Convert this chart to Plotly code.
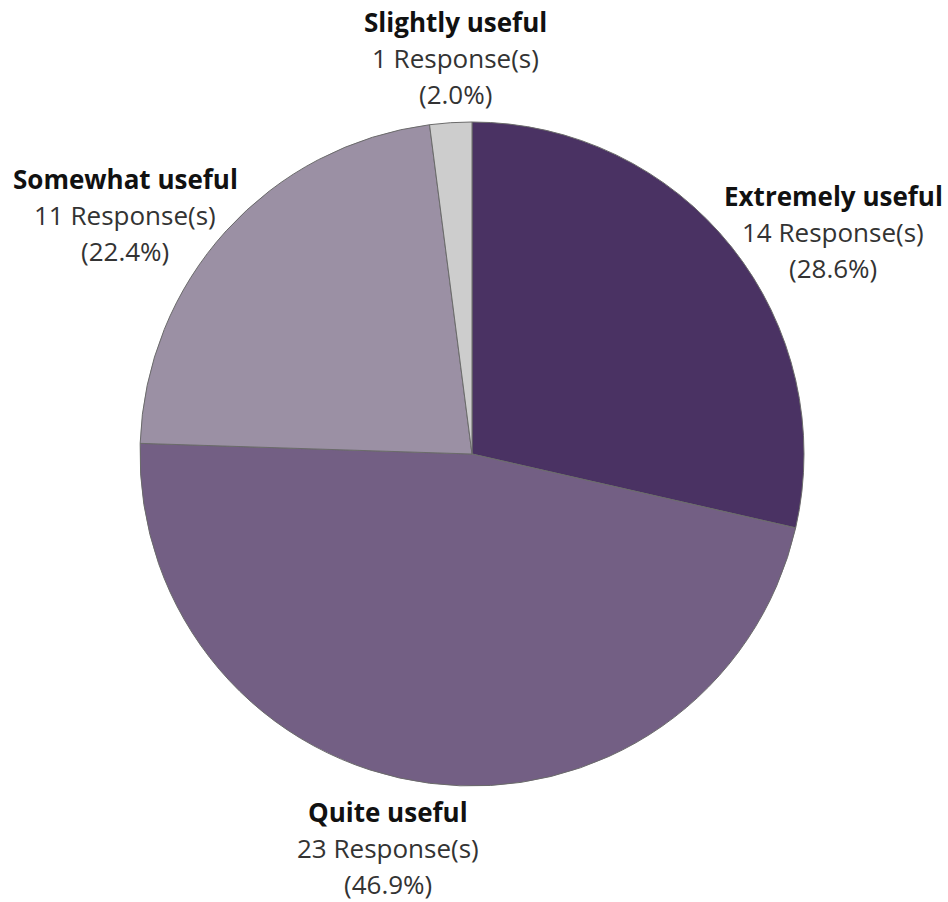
import plotly.graph_objects as go

# Survey responses
categories = ["Extremely useful", "Quite useful", "Somewhat useful", "Slightly useful"]
responses = [14, 23, 11, 1]
slice_colors = ["#4a3263", "#735f84", "#9b90a4", "#cdcdcd"]

W, H = 948, 902
total = sum(responses)

# Pie placement in pixels (centre and radius)
cx, cy, r = 472, 454, 332

fig = go.Figure(
    go.Pie(
        labels=categories,
        values=responses,
        sort=False,
        direction="clockwise",
        rotation=0,
        marker=dict(colors=slice_colors, line=dict(color="#6b6b6b", width=1)),
        textinfo="none",
        hoverinfo="label+value+percent",
        showlegend=False,
        domain=dict(
            x=[(cx - r) / W, (cx + r) / W],
            y=[(H - cy - r) / H, (H - cy + r) / H],
        ),
    )
)

# Label anchor (centre x, first-line y) in pixels for each category
label_pos = {
    "Extremely useful": (833, 196),
    "Quite useful": (388, 812),
    "Somewhat useful": (125, 179),
    "Slightly useful": (455, 22),
}
line_gap = 36
font_family = "Open Sans, sans-serif"

annotations = []
for cat, n in zip(categories, responses):
    x, y = label_pos[cat]
    lines = [
        (f"<b>{cat}</b>", "#111111"),
        (f"{n} Response(s)", "#333333"),
        (f"({n / total * 100:.1f}%)", "#333333"),
    ]
    for i, (txt, col) in enumerate(lines):
        annotations.append(
            dict(
                text=txt,
                x=x / W,
                y=1 - (y + i * line_gap) / H,
                xref="paper",
                yref="paper",
                xanchor="center",
                yanchor="middle",
                showarrow=False,
                font=dict(family=font_family, size=26, color=col),
            )
        )

fig.update_layout(
    width=W,
    height=H,
    margin=dict(l=0, r=0, t=0, b=0),
    paper_bgcolor="white",
    plot_bgcolor="white",
    annotations=annotations,
)

fig.write_html("out.html")
